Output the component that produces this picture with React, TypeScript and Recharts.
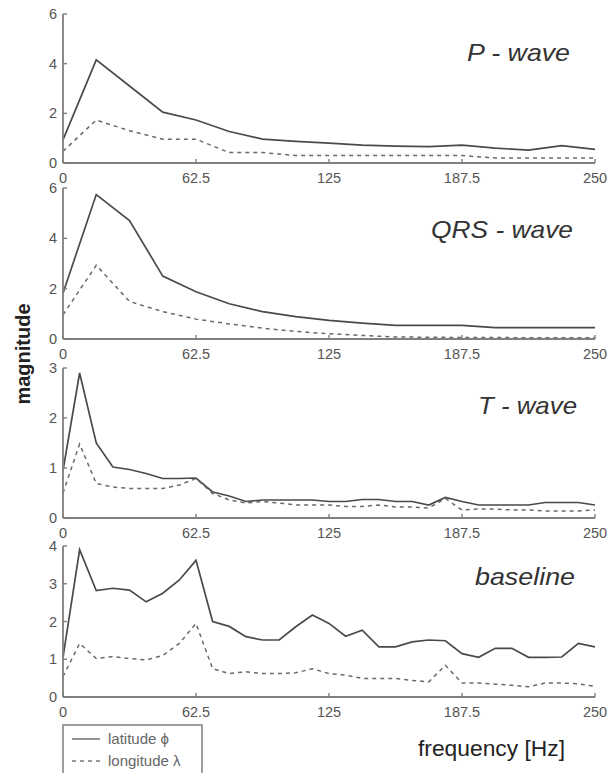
import { LineChart, Line, XAxis, YAxis } from 'recharts';

// frequency grids [Hz]
const freqCoarse = [0, 15.625, 31.25, 46.875, 62.5, 78.125, 93.75, 109.375, 125, 140.625, 156.25, 171.875, 187.5, 203.125, 218.75, 234.375, 250];
const freqFine = [
  0, 7.8125, 15.625, 23.4375, 31.25, 39.0625, 46.875, 54.6875, 62.5, 70.3125, 78.125,
  85.9375, 93.75, 101.5625, 109.375, 117.1875, 125, 132.8125, 140.625, 148.4375, 156.25,
  164.0625, 171.875, 179.6875, 187.5, 195.3125, 203.125, 210.9375, 218.75, 226.5625, 234.375,
  242.1875, 250,
];
const xTicks = [0, 62.5, 125, 187.5, 250];

// P - wave
const pLat = [0.93, 4.15, 3.1, 2.05, 1.73, 1.27, 0.96, 0.87, 0.8, 0.72, 0.68, 0.66, 0.72, 0.6, 0.52, 0.7, 0.55];
const pLon = [0.47, 1.73, 1.3, 0.96, 0.96, 0.42, 0.42, 0.3, 0.3, 0.3, 0.3, 0.3, 0.3, 0.2, 0.2, 0.2, 0.2];

// QRS - wave
const qLat = [1.82, 5.74, 4.71, 2.5, 1.88, 1.4, 1.09, 0.89, 0.74, 0.63, 0.54, 0.54, 0.54, 0.45, 0.45, 0.45, 0.45];
const qLon = [0.96, 2.93, 1.49, 1.09, 0.79, 0.6, 0.43, 0.3, 0.21, 0.14, 0.08, 0.07, 0.06, 0.06, 0.05, 0.05, 0.05];

// T - wave
const tLat = [
  0.95, 2.9, 1.5, 1.02, 0.97, 0.89, 0.79, 0.79, 0.8, 0.52, 0.44, 0.33, 0.36, 0.36, 0.36, 0.36, 0.33,
  0.33, 0.37, 0.37, 0.33, 0.33, 0.26, 0.41, 0.33, 0.26, 0.26, 0.26, 0.26, 0.31, 0.31, 0.31, 0.26,
];
const tLon = [
  0.5, 1.48, 0.69, 0.62, 0.59, 0.59, 0.59, 0.66, 0.79, 0.49, 0.36, 0.3, 0.33, 0.3, 0.26, 0.26, 0.26,
  0.23, 0.23, 0.26, 0.22, 0.22, 0.2, 0.39, 0.16, 0.18, 0.18, 0.16, 0.16, 0.14, 0.14, 0.14, 0.16,
];

// baseline
const bLat = [
  1.05, 3.9, 2.82, 2.88, 2.83, 2.52, 2.75, 3.1, 3.62, 2.0, 1.87, 1.6, 1.51, 1.51, 1.86, 2.17, 1.95,
  1.61, 1.77, 1.33, 1.33, 1.46, 1.51, 1.49, 1.15, 1.05, 1.29, 1.29, 1.05, 1.05, 1.06, 1.42, 1.33,
];
const bLon = [
  0.54, 1.42, 1.02, 1.07, 1.02, 0.98, 1.1, 1.42, 1.95, 0.75, 0.62, 0.67, 0.62, 0.62, 0.64, 0.75, 0.62,
  0.58, 0.49, 0.49, 0.49, 0.44, 0.4, 0.84, 0.37, 0.37, 0.34, 0.31, 0.27, 0.37, 0.37, 0.35, 0.28,
];

const toRows = (f: number[], lat: number[], lon: number[]) =>
  f.map((v, i) => ({ f: v, lat: lat[i], lon: lon[i] }));

const AXIS = '#7f7f7f';
const FONT = "'Liberation Sans', Arial, sans-serif";
const axisLine = { stroke: AXIS, strokeWidth: 1.8 };

const BottomTick = ({ x, y, payload }: any) => (
  <g>
    <line x1={x} y1={y} x2={x} y2={y - 4} stroke={AXIS} strokeWidth={1.4} />
    <text x={x} y={y + 20} textAnchor="middle" fontSize={14.5} fill="#555" fontFamily={FONT}>
      {payload.value}
    </text>
  </g>
);
const TopTick = ({ x, y }: any) => (
  <line x1={x} y1={y} x2={x} y2={y + 4} stroke={AXIS} strokeWidth={1.4} />
);
const LeftTick = ({ x, y, payload }: any) => (
  <g>
    <line x1={x} y1={y} x2={x + 4} y2={y} stroke={AXIS} strokeWidth={1.4} />
    <text x={x - 6} y={y + 5} textAnchor="end" fontSize={14.5} fill="#555" fontFamily={FONT}>
      {payload.value}
    </text>
  </g>
);
const RightTick = ({ x, y }: any) => (
  <line x1={x} y1={y} x2={x - 4} y2={y} stroke={AXIS} strokeWidth={1.4} />
);

interface PanelProps {
  data: Array<{ f: number; lat: number; lon: number }>;
  top: number;
  bottom: number;
  yMax: number;
  yTicks: number[];
}

function Panel({ data, top, bottom, yMax, yTicks }: PanelProps) {
  const h = bottom - top;
  return (
    <div style={{ position: 'absolute', left: 0, top: top - 10 }}>
      <LineChart width={615} height={h + 40} data={data} margin={{ top: 10, right: 20, bottom: 0, left: 0 }}>
        <XAxis
          dataKey="f" type="number" domain={[0, 250]} ticks={xTicks} interval={0}
          height={30} tickSize={0} tickMargin={0} tickLine={false} axisLine={axisLine}
          tick={(p: any) => <BottomTick {...p} />}
        />
        <XAxis
          xAxisId="top" orientation="top" dataKey="f" type="number" domain={[0, 250]} ticks={xTicks}
          interval={0} height={0} tickSize={0} tickMargin={0} tickLine={false} axisLine={axisLine}
          tick={(p: any) => <TopTick {...p} />}
        />
        <YAxis
          type="number" domain={[0, yMax]} ticks={yTicks} interval={0} width={63}
          tickSize={0} tickMargin={0} tickLine={false} axisLine={axisLine}
          tick={(p: any) => <LeftTick {...p} />}
        />
        <YAxis
          yAxisId="right" orientation="right" type="number" domain={[0, yMax]} ticks={yTicks}
          interval={0} width={0} tickSize={0} tickMargin={0} tickLine={false} axisLine={axisLine}
          tick={(p: any) => <RightTick {...p} />}
        />
        <Line dataKey="lat" stroke="#4a4a4a" strokeWidth={1.7} dot={false} isAnimationActive={false} />
        <Line
          dataKey="lon" stroke="#6a6a6a" strokeWidth={1.5} strokeDasharray="4 4"
          dot={false} isAnimationActive={false}
        />
      </LineChart>
    </div>
  );
}

export default function App() {
  const title = {
    fontFamily: FONT, fontStyle: 'italic', fontSize: 24, fill: '#333', lengthAdjust: 'spacingAndGlyphs',
  } as const;
  return (
    <div style={{ position: 'absolute', left: 0, top: 0, width: 615, height: 773, background: '#fff', overflow: 'hidden' }}>
      <Panel data={toRows(freqCoarse, pLat, pLon)} top={14} bottom={163} yMax={6} yTicks={[0, 2, 4, 6]} />
      <Panel data={toRows(freqCoarse, qLat, qLon)} top={188} bottom={339} yMax={6} yTicks={[0, 2, 4, 6]} />
      <Panel data={toRows(freqFine, tLat, tLon)} top={368} bottom={518} yMax={3} yTicks={[0, 1, 2, 3]} />
      <Panel data={toRows(freqFine, bLat, bLon)} top={546} bottom={697} yMax={4} yTicks={[0, 1, 2, 3, 4]} />

      <svg width={615} height={773} style={{ position: 'absolute', left: 0, top: 0, pointerEvents: 'none' }}>
        <text x={467} y={61} textLength={103} {...title}>P - wave</text>
        <text x={431} y={238} textLength={142} {...title}>QRS - wave</text>
        <text x={478} y={414} textLength={99} {...title}>T - wave</text>
        <text x={475} y={585} textLength={100} {...title}>baseline</text>

        <text
          x={23} y={354} transform="rotate(-90 23 354)" textAnchor="middle" dominantBaseline="central"
          fontFamily={FONT} fontWeight="bold" fontSize={20} fill="#222"
        >
          magnitude
        </text>
        <text x={418} y={756} textLength={147} lengthAdjust="spacingAndGlyphs" fontFamily={FONT} fontSize={22.5} fill="#222">
          frequency [Hz]
        </text>

        {/* legend */}
        <rect x={63} y={725} width={139} height={70} fill="#fff" stroke={AXIS} strokeWidth={1.5} />
        <line x1={72} y1={739} x2={100} y2={739} stroke="#777" strokeWidth={1.6} />
        <text x={108} y={744} fontFamily={FONT} fontSize={15} fill="#666">latitude ϕ</text>
        <line x1={72} y1={761} x2={100} y2={761} stroke="#777" strokeWidth={1.5} strokeDasharray="4 4" />
        <text x={108} y={766} fontFamily={FONT} fontSize={15} fill="#666">longitude λ</text>
      </svg>
    </div>
  );
}
